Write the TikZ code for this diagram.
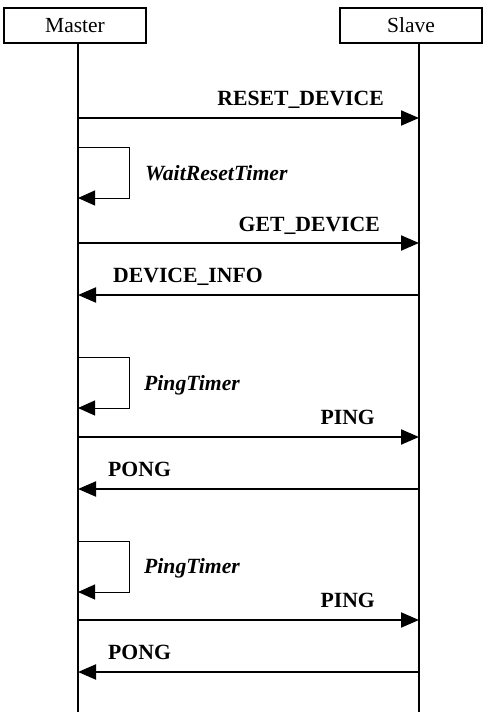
\documentclass[tikz,border=0pt]{standalone}
\usepackage{fontspec}
\setmainfont{Liberation Serif}
\usetikzlibrary{arrows.meta}
\tikzset{
  lifebox/.style={draw, line width=1.7pt, minimum width=142pt, minimum height=35pt, inner sep=0pt, font=\fontsize{21.5}{26}\selectfont},
  lifeline/.style={line width=2pt},
  msg/.style={line width=2pt, -{Triangle[length=18pt,width=15pt]}},
  selfmsg/.style={line width=1pt, -{Triangle[length=17pt,width=15pt]}},
  msglabel/.style={inner sep=0pt, font=\fontsize{21.7}{26}\selectfont\bfseries},
  timerlabel/.style={inner sep=0pt, font=\fontsize{21.7}{26}\selectfont\bfseries\itshape},
}
\begin{document}
\begin{tikzpicture}[x=1pt,y=-1pt]
\useasboundingbox (0,0) rectangle (493,726);
\node[lifebox] (master) at (75,25.5) {Master};
\node[lifebox] (slave) at (411,25.5) {Slave};
\coordinate (mend) at (78,712);
\coordinate (send) at (419,712);
\draw[lifeline] (78,43) -- (mend);
\draw[lifeline] (419,43) -- (send);
% messages
\foreach \n/\y in {a/118,b/147,c/198,d/243,e/295,f/357,g/408,h/437,i/489,j/541,k/592,l/620,m/672}{
  \coordinate (m\n) at (78,\y);
  \coordinate (s\n) at (419,\y);
}
\coordinate (lb) at (129,147);
\coordinate (lc) at (129,198);
\coordinate (lf) at (129,357);
\coordinate (lg) at (129,408);
\coordinate (lj) at (129,541);
\coordinate (lk) at (129,592);

\draw[msg] (ma) -- (sa);
\node[msglabel, anchor=base east] (t1) at (384,105) {RESET\_DEVICE};

\draw[selfmsg] (mb) -- (lb) -- (lc) -- (mc);
\node[timerlabel, anchor=base west] (t2) at (145,180) {WaitResetTimer};

\draw[msg] (md) -- (sd);
\node[msglabel, anchor=base east] (t3) at (380,231) {GET\_DEVICE};

\draw[msg] (se) -- (me);
\node[msglabel, anchor=base west] (t4) at (113,282) {DEVICE\_INFO};

\draw[selfmsg] (mf) -- (lf) -- (lg) -- (mg);
\node[timerlabel, anchor=base west] (t5) at (144,390) {PingTimer};

\draw[msg] (mh) -- (sh);
\node[msglabel, anchor=base east] (t6) at (375,424) {PING};

\draw[msg] (si) -- (mi);
\node[msglabel, anchor=base west] (t7) at (108,476) {PONG};

\draw[selfmsg] (mj) -- (lj) -- (lk) -- (mk);
\node[timerlabel, anchor=base west] (t8) at (144,573) {PingTimer};

\draw[msg] (ml) -- (sl);
\node[msglabel, anchor=base east] (t9) at (375,607) {PING};

\draw[msg] (sm) -- (mm);
\node[msglabel, anchor=base west] (t10) at (108,659) {PONG};
\end{tikzpicture}
\end{document}
